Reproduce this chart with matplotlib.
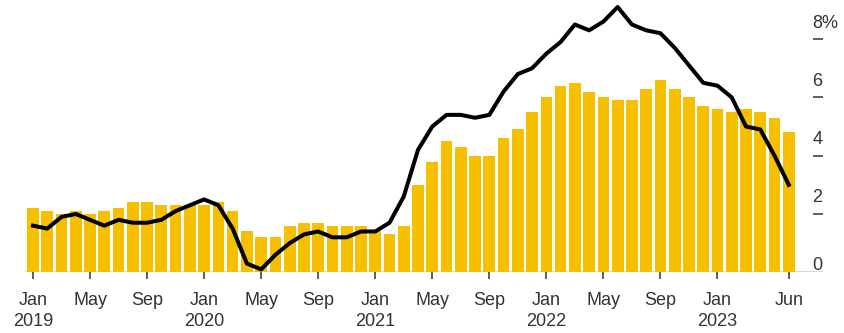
import matplotlib
matplotlib.use("Agg")
import matplotlib.pyplot as plt
import matplotlib.transforms as mtransforms

# US CPI, year-over-year %, Jan 2019 .. Jun 2023 (monthly)
headline = [1.6, 1.5, 1.9, 2.0, 1.8, 1.6, 1.8, 1.7, 1.7, 1.8, 2.1, 2.3,
            2.5, 2.3, 1.5, 0.3, 0.1, 0.6, 1.0, 1.3, 1.4, 1.2, 1.2, 1.4,
            1.4, 1.7, 2.6, 4.2, 5.0, 5.4, 5.4, 5.3, 5.4, 6.2, 6.8, 7.0,
            7.5, 7.9, 8.5, 8.3, 8.6, 9.1, 8.5, 8.3, 8.2, 7.7, 7.1, 6.5,
            6.4, 6.0, 5.0, 4.9, 4.0, 3.0]
core = [2.2, 2.1, 2.0, 2.1, 2.0, 2.1, 2.2, 2.4, 2.4, 2.3, 2.3, 2.3,
        2.3, 2.4, 2.1, 1.4, 1.2, 1.2, 1.6, 1.7, 1.7, 1.6, 1.6, 1.6,
        1.4, 1.3, 1.6, 3.0, 3.8, 4.5, 4.3, 4.0, 4.0, 4.6, 4.9, 5.5,
        6.0, 6.4, 6.5, 6.2, 6.0, 5.9, 5.9, 6.3, 6.6, 6.3, 6.0, 5.7,
        5.6, 5.5, 5.6, 5.5, 5.3, 4.8]
months = list(range(len(core)))

tick_pos = [0, 4, 8, 12, 16, 20, 24, 28, 32, 36, 40, 44, 48, 53]
tick_labels = ["Jan\n2019", "May", "Sep", "Jan\n2020", "May", "Sep",
               "Jan\n2021", "May", "Sep", "Jan\n2022", "May", "Sep",
               "Jan\n2023", "Jun"]
y_ticks = [0, 2, 4, 6, 8]
y_labels = ["0", "2", "4", "6", "8%"]

plt.rcParams['font.family'] = ['Liberation Sans', 'DejaVu Sans']
txt_color = '#333333'

fig = plt.figure(figsize=(8.44, 3.33), dpi=100)
ax = fig.add_axes([25/844, 60.7/333, 798/844, 272.3/333])

ax.bar(months, core, width=0.82, color='#F6C000', zorder=2)
ax.plot(months, headline, color='black', lw=2.9, zorder=3,
        solid_joinstyle='round', clip_on=False)

ax.set_xlim(-0.56, 55.4)
ax.set_ylim(0, 9.34)

for s in ax.spines.values():
    s.set_visible(False)
ax.axhline(0, color='#333333', lw=1.0, zorder=1)

ax.set_xticks(tick_pos)
ax.set_xticklabels(tick_labels)
ax.tick_params(axis='x', length=5, width=1.1, color='#333333',
               pad=9, labelsize=13, labelcolor=txt_color)
for lab in ax.get_xticklabels():
    lab.set_linespacing(1.3)

# right-hand value dashes with labels sitting above them
ax.yaxis.tick_right()
ax.set_yticks(y_ticks[1:])
ax.set_yticklabels([])
ax.tick_params(axis='y', direction='in', length=7.5, width=1.1,
               color='#333333')
xl = 1 - 10.5/798
trans = mtransforms.blended_transform_factory(ax.transAxes, ax.transData)
for v, s in zip(y_ticks, y_labels):
    off = 7 if v == 0 else 16
    t = mtransforms.offset_copy(trans, fig=fig, x=0, y=off, units='dots')
    ax.text(xl, v, s, transform=t, ha='left', va='center',
            fontsize=13, color=txt_color, clip_on=False)

plt.savefig('out.png', dpi=100)
